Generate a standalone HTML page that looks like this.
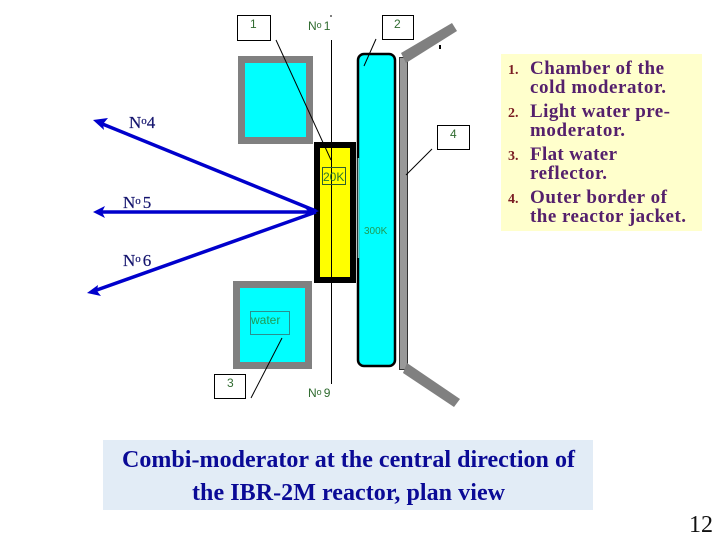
<!DOCTYPE html>
<html>
<head>
<meta charset="utf-8">
<style>
html,body{margin:0;padding:0;background:#fff;width:720px;height:540px;overflow:hidden}
svg{display:block}
.s{font-family:"Liberation Sans",sans-serif;font-size:12px;fill:#2f6b2f}
.g{font-family:"Liberation Sans",sans-serif;font-size:11px;fill:#1f9a55}
.n{font-family:"Liberation Serif",serif;font-size:17px;fill:#14146e;stroke:#14146e;stroke-width:.2}
.l{font-family:"Liberation Serif",serif;font-size:19px;font-weight:bold;fill:#55206c}
.m{font-family:"Liberation Serif",serif;font-size:14px;font-weight:bold;fill:#7a1c22}
.c{font-family:"Liberation Serif",serif;font-size:24px;font-weight:bold;fill:#0a0a96}
</style>
</head>
<body>
<svg width="720" height="540" viewBox="0 0 720 540" xmlns="http://www.w3.org/2000/svg">
<rect width="720" height="540" fill="#fff"/>

<!-- Upper water square -->
<rect x="238" y="56" width="75" height="88" fill="#808080"/>
<rect x="245" y="63" width="61" height="74" fill="#00ffff"/>
<!-- Lower water square -->
<rect x="233" y="281" width="79" height="88" fill="#808080"/>
<rect x="240" y="288" width="65" height="74" fill="#00ffff"/>

<!-- Cold moderator -->
<rect x="314" y="142" width="42" height="141" fill="#000"/>
<rect x="320" y="148" width="30" height="129" fill="#ffff00"/>

<!-- Tall premoderator -->
<rect x="358" y="54" width="37" height="312" rx="6" ry="6" fill="#00ffff" stroke="#000" stroke-width="2.5"/>
<line x1="358.500" y1="158" x2="358.500" y2="258" stroke="#7fbfbf" stroke-width="1.5"/>

<!-- Reactor jacket -->
<rect x="399.500" y="57.500" width="8" height="312" fill="#999" stroke="#333" stroke-width="1"/>
<polygon points="401,53 452,23 457,31 406,63" fill="#808080"/>
<polygon points="407,363 460,399 454,407 403,373" fill="#808080"/>
<rect x="439" y="45" width="2" height="4" fill="#000"/>

<!-- Thin lines -->
<rect x="330.500" y="15" width="1" height="2" fill="#000"/>
<line x1="331.500" y1="40" x2="331.500" y2="384" stroke="#000" stroke-width="1"/>
<line x1="276" y1="40" x2="331" y2="160" stroke="#000" stroke-width="1"/>
<line x1="376" y1="39" x2="364" y2="66" stroke="#000" stroke-width="1"/>
<line x1="432" y1="149" x2="406" y2="175" stroke="#000" stroke-width="1"/>
<line x1="282" y1="338" x2="251" y2="398" stroke="#000" stroke-width="1"/>

<!-- Label boxes -->
<rect x="237.500" y="15.500" width="33" height="25" fill="#fff" stroke="#000"/>
<rect x="382.500" y="15.500" width="31" height="24" fill="#fff" stroke="#000"/>
<rect x="437.500" y="125.500" width="32" height="24" fill="#fff" stroke="#000"/>
<rect x="214.500" y="374.500" width="31" height="24" fill="#fff" stroke="#000"/>
<rect x="322.500" y="167.500" width="23" height="17" fill="none" stroke="#2f5f2f"/>
<rect x="250.500" y="311.500" width="39" height="23" fill="none" stroke="#2a8f8f"/>

<text class="s" x="250" y="28">1</text>
<text class="s" x="394" y="28">2</text>
<text class="s" x="450" y="138">4</text>
<text class="s" x="227" y="387">3</text>
<text class="s" x="308" y="30">N<tspan font-size="9" dy="-2">o</tspan><tspan dy="2" dx="2">1</tspan></text>
<text class="s" x="308" y="397">N<tspan font-size="9" dy="-2">o</tspan><tspan dy="2" dx="2">9</tspan></text>
<text class="g" x="323" y="181" style="fill:#2a7a2a;font-size:12px">20K</text>
<text class="g" x="364" y="234" style="font-size:10px">300K</text>
<text class="g" x="251" y="324" style="font-size:12px">water</text>

<!-- Blue arrows -->
<g stroke="#0000cc" stroke-width="3.500" fill="none">
<line x1="316" y1="211" x2="100" y2="123"/>
<line x1="316" y1="212" x2="100" y2="212"/>
<line x1="316" y1="212" x2="94" y2="291"/>
</g>
<polygon points="93,120 108,118 103,124 104,130" fill="#0000cc"/>
<polygon points="93,212 105,206 102,212 105,218" fill="#0000cc"/>
<polygon points="87,293 98,285 97,291 101,296" fill="#0000cc"/>
<polygon points="319,211 302,205 308,211 302,218" fill="#0000cc"/>

<text class="n" x="129" y="128">N<tspan font-size="11" dy="-4">o</tspan><tspan dy="4">4</tspan></text>
<text class="n" x="123" y="208">N<tspan font-size="11" dy="-4">o</tspan><tspan dy="4" dx="2">5</tspan></text>
<text class="n" x="123" y="266">N<tspan font-size="11" dy="-4">o</tspan><tspan dy="4" dx="2">6</tspan></text>

<!-- Legend -->
<rect x="501" y="54" width="201" height="177" fill="#ffffcc"/>
<text class="m" x="508" y="74">1.</text>
<text class="m" x="508" y="117">2.</text>
<text class="m" x="508" y="160">3.</text>
<text class="m" x="508" y="203">4.</text>
<text class="l" x="530" y="74" textLength="134">Chamber of the</text>
<text class="l" x="530" y="93" textLength="136">cold moderator.</text>
<text class="l" x="530" y="117" textLength="140">Light water pre-</text>
<text class="l" x="530" y="136" textLength="95">moderator.</text>
<text class="l" x="530" y="160" textLength="87">Flat water</text>
<text class="l" x="530" y="179" textLength="77">reflector.</text>
<text class="l" x="530" y="203" textLength="137">Outer border of</text>
<text class="l" x="530" y="222" textLength="156">the reactor jacket.</text>

<!-- Caption -->
<rect x="103" y="440" width="490" height="70" fill="#e2ecf6"/>
<text class="c" x="122" y="467" textLength="453">Combi-moderator at the central direction of</text>
<text class="c" x="192" y="500" textLength="313">the IBR-2M reactor, plan view</text>

<text x="689" y="532" font-family="'Liberation Serif',serif" font-size="24" fill="#111">12</text>
</svg>
</body>
</html>
